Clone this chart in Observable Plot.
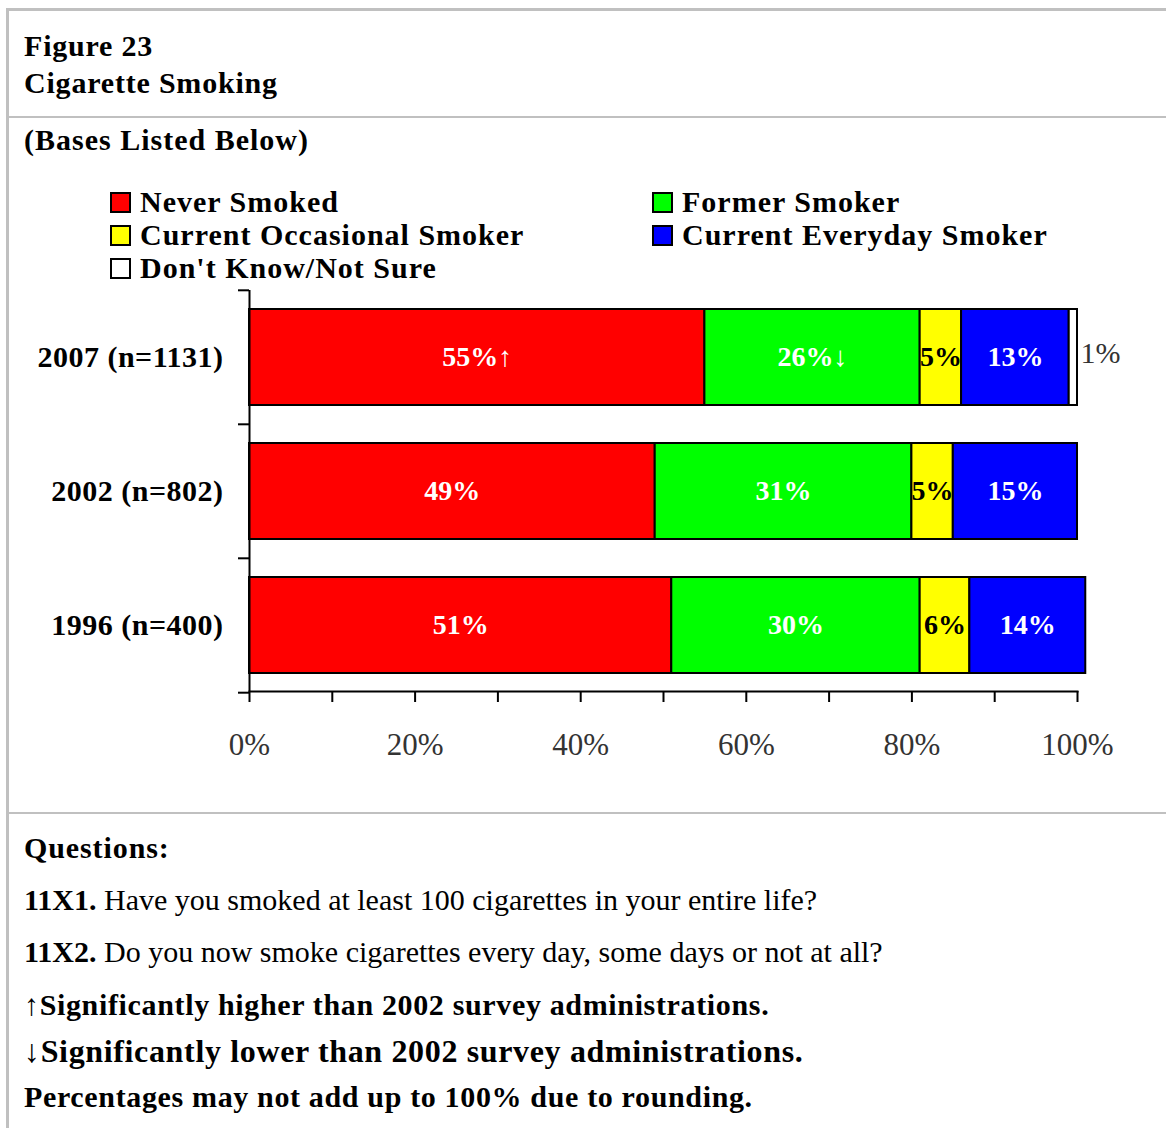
<!DOCTYPE html>
<html><head><meta charset="utf-8">
<script src="https://cdn.jsdelivr.net/npm/d3@7"></script>
<script src="https://cdn.jsdelivr.net/npm/@observablehq/plot@0.6"></script>
<style>
body{margin:0;background:#fff;font-family:"Liberation Serif",serif;color:#000;}
#page{position:relative;width:1166px;height:1128px;overflow:hidden;background:#fff;}
.line{position:absolute;background:#c0c0c0;}
.t{position:absolute;white-space:nowrap;font-size:30px;line-height:30px;}
.b{font-weight:bold;letter-spacing:0.65px;}
.ttl{letter-spacing:0.8px;}
.lg{letter-spacing:1px;line-height:28px;}
.sw{position:absolute;width:21px;height:21px;box-sizing:border-box;border:2px solid #000;}
#chart{position:absolute;left:0;top:280px;}
#chart g[aria-label="y-axis tick label"] text{letter-spacing:0.5px;}
</style></head><body>
<div id="page">
 <div class="line" style="left:6px;top:8px;width:1160px;height:3px"></div>
 <div class="line" style="left:6px;top:8px;width:3px;height:1120px"></div>
 <div class="line" style="left:6px;top:116px;width:1160px;height:2px"></div>
 <div class="line" style="left:6px;top:812px;width:1160px;height:2px"></div>
 <div class="t b ttl" style="left:24px;top:31px">Figure 23</div>
 <div class="t b ttl" style="left:24px;top:68px">Cigarette Smoking</div>
 <div class="t b ttl" style="left:24px;top:125px;letter-spacing:1px">(Bases Listed Below)</div>
 <div id="legend"></div>
 <div id="chart"></div>
 <div class="t b" style="left:24px;top:833px;letter-spacing:0.9px">Questions:</div>
 <div class="t" style="left:24px;top:885px"><b>11X1.</b> Have you smoked at least 100 cigarettes in your entire life?</div>
 <div class="t" style="left:24px;top:937px"><b>11X2.</b> Do you now smoke cigarettes every day, some days or not at all?</div>
 <div class="t b" style="left:24px;top:990px">↑Significantly higher than 2002 survey administrations.</div>
 <div class="t b" style="left:24px;top:1035px;font-size:32px;line-height:32px">↓Significantly lower than 2002 survey administrations.</div>
 <div class="t b" style="left:24px;top:1082px">Percentages may not add up to 100% due to rounding.</div>
</div>
<script>
const years = ["2007 (n=1131)", "2002 (n=802)", "1996 (n=400)"];
const categories = ["Never Smoked", "Former Smoker", "Current Occasional Smoker", "Current Everyday Smoker", "Don't Know/Not Sure"];
const colors = ["#ff0000", "#00ff00", "#ffff00", "#0000ff", "#ffffff"];
const neverSmoked = [55, 49, 51];
const formerSmoker = [26, 31, 30];
const occasionalSmoker = [5, 5, 6];
const everydaySmoker = [13, 15, 14];
const dontKnow = [1, 0, 0];
const neverSig = ["↑", "", ""];
const formerSig = ["↓", "", ""];
const xTicks = [0, 10, 20, 30, 40, 50, 60, 70, 80, 90, 100];

const series = [neverSmoked, formerSmoker, occasionalSmoker, everydaySmoker, dontKnow];
const sigs = [neverSig, formerSig, null, null, null];
const whiteCats = [categories[0], categories[1], categories[3]];

const rows = [];
years.forEach((yr, i) => {
  series.forEach((s, j) => {
    rows.push({year: yr, category: categories[j], value: s[i],
      label: s[i] + "%" + (sigs[j] ? sigs[j][i] : "")});
  });
});

// legend (row-major, two columns)
const legend = document.getElementById("legend");
const legendRows = [188, 221, 254];
categories.forEach((c, k) => {
  const col = k % 2, row = Math.floor(k / 2);
  const left = col === 0 ? 110 : 652;
  const top = legendRows[row];
  const sw = document.createElement("div");
  sw.className = "sw"; sw.style.left = left + "px"; sw.style.top = (top + 4) + "px";
  sw.style.background = colors[k];
  legend.appendChild(sw);
  const tx = document.createElement("div");
  tx.className = "t b lg"; tx.style.left = (left + 30) + "px"; tx.style.top = top + "px";
  tx.textContent = c;
  legend.appendChild(tx);
});

const step = 401 / (3 - 0.284 + 2 * 0.134);

const chart = Plot.plot({
  width: 1166,
  height: 491,
  marginLeft: 249,
  marginRight: 89,
  marginTop: 10,
  marginBottom: 80,
  style: {fontFamily: "Liberation Serif", fontSize: "28px", background: "transparent", overflow: "visible", color: "black"},
  x: {domain: [0, 100], axis: null},
  y: {domain: years, paddingInner: 0.284, paddingOuter: 0.134, axis: null},
  color: {domain: categories, range: colors},
  marks: [
    Plot.barX(rows, Plot.stackX({x: "value", y: "year", fill: "category", stroke: "black", strokeWidth: 2})),
    Plot.text(rows, Plot.stackX({x: "value", y: "year", z: "category",
      text: d => whiteCats.includes(d.category) && d.value > 0 ? d.label : "",
      fill: "white", fontWeight: "bold", fontSize: 28})),
    Plot.text(rows, Plot.stackX({x: "value", y: "year", z: "category",
      text: d => d.category === categories[2] && d.value > 0 ? d.label : "",
      fill: "black", fontWeight: "bold", fontSize: 28})),
    Plot.text(rows, Plot.stackX2({x: "value", y: "year", z: "category",
      text: d => d.category === categories[4] && d.value > 0 ? d.label : "",
      fill: "#333", fontSize: 30, textAnchor: "start", dx: 3, dy: -4})),
    Plot.ruleX([0], {stroke: "black", strokeWidth: 2}),
    Plot.frame({anchor: "bottom", stroke: "black", strokeWidth: 2}),
    Plot.ruleY(years, {y: d => d, x1: 0, x2: 0, insetLeft: -11, dy: -step / 2, stroke: "black", strokeWidth: 2}),
    Plot.ruleY([years[years.length - 1]], {y: d => d, x1: 0, x2: 0, insetLeft: -11, dy: step / 2, stroke: "black", strokeWidth: 2}),
    Plot.axisY({tickSize: 0, tickPadding: 26, fontSize: 30, fontWeight: "bold", fill: "black", label: null}),
    Plot.axisX({ticks: xTicks, tickSize: 11, tickPadding: 30, strokeWidth: 2, stroke: "black", fill: "#333", fontSize: 31, label: null,
      tickFormat: d => d % 20 === 0 ? d + "%" : ""})
  ]
});
document.getElementById("chart").appendChild(chart);
</script>
</body></html>
